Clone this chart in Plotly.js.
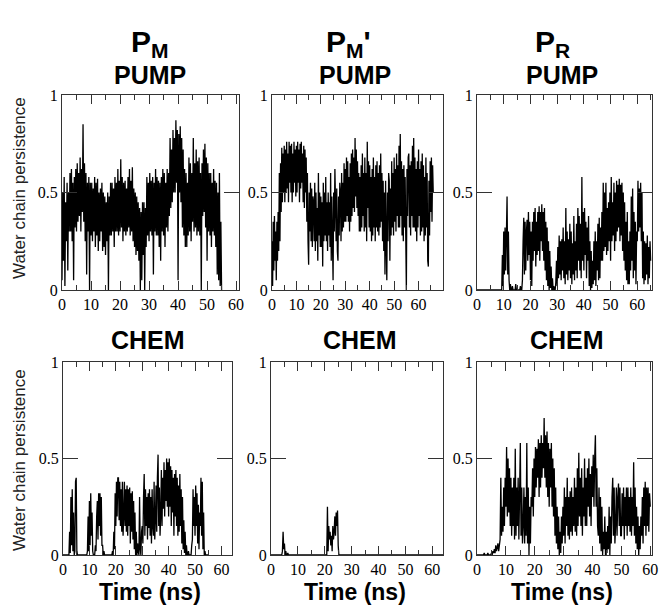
<!DOCTYPE html>
<html>
<head>
<meta charset="utf-8">
<script src="https://cdn.plot.ly/plotly-3.0.1.min.js"></script>
<style>html,body{margin:0;padding:0;background:#fff;}#chart{width:659px;height:610px;}</style>
</head>
<body>
<div id="chart"></div>
<script>
// sampling interval of every series (ns)
const timeStep = 0.25;

const columnTitles = ['<b>P<sub>M</sub></b>', "<b>P<sub>M</sub>'</b>", '<b>P<sub>R</sub></b>'];
const rowTitles = ['PUMP', 'CHEM'];
const xTitle = 'Time (ns)';
const yTitle = 'Water chain persistence';
const yTickVals = [0, 0.5, 1];
const yTickText = ['0', '0.5', '1'];
const xTickVals = [0, 10, 20, 30, 40, 50, 60];

// P_M, PUMP (0-55 ns)
const pmPump = [.05,.5,.15,.58, .02,.45,.25,.55, .1,.5,.3,.6, .3,.62,.25,.55, .05,.58,.32,.62, .3,.65,.35,.6, .38,.68,.3,.62, .4,.85,.35,.65, .25,.6,.08,.55, .3,.58,0,.55, .28,.55,.25,.52, .3,.58,.22,.55, .28,.57,.2,.5, .25,.52,.3,.55, .2,.5,.22,.48, .18,.45,.25,.5, 0,.48,.28,.55, .28,.55,.3,.52, .22,.58,.3,.55, .3,.62,.28,.56, .3,.67,.32,.58, .25,.55,.3,.56, .28,.52,.3,.58, .32,.62,.28,.56, .3,.63,.25,.52, .22,.5,.18,.48, .2,.45,.15,.42, 0,.4,.05,.45, .18,.45,0,.42, .22,.58,.28,.55, .25,.6,.3,.56, .28,.58,.08,.55, .3,.62,.28,.58, .28,.56,.22,.55, .15,.58,.3,.62, .28,.6,.22,.55, .32,.62,.3,.6, .38,.78,.42,.72, .45,.82,.5,.78, .5,.87,.55,.82, .05,.8,.5,.84, .45,.78,.32,.72, .28,.62,.22,.6, .22,.55,.28,.68, .3,.65,.25,.6, .35,.78,.3,.65, .32,.72,.28,.66, .3,.68,.28,.6, 0,.65,.38,.72, .4,.75,.32,.68, .15,.65,.3,.6, .28,.6,.22,.55, .3,.62,.28,.56, .22,.55,.08,.5, .05,.6,.02,.35, 0];

// P_M', PUMP (0-66 ns)
const pmpPump = [.25,.02,.35,.1, .38,.15,.3,.05, .35,.15,.4,.2, .6,.25,.65,.4, .73,.45,.7,.5, .74,.45,.72,.5, .76,.52,.7,.45, .76,.55,.74,.5, .75,.45,.7,.5, .76,.55,.72,.48, .74,.5,.76,.55, .72,.45,.75,.52, .76,.55,.7,.45, .74,.42,.72,.5, .68,.35,.6,.25, .13,.5,.3,.55, .25,.52,.22,.48, .45,.25,.55,.2, .5,.25,.42,.15, .6,.28,.5,.22, .48,.22,.45,.12, .55,.25,.5,.28, .58,.25,.45,.2, .5,.28,.45,.22, .6,.15,.48,.25, .05,.5,.3,.62, .45,.25,.52,.2, .15,.48,.28,.55, .5,.25,.6,.3, .55,.32,.65,.35, .62,.35,.68,.38, .66,.35,.58,.3, .65,.35,.7,.38, .72,.42,.68,.4, .78,.48,.72,.42, .66,.38,.6,.3, .58,.3,.64,.32, .7,.38,.6,.3, .68,.32,.6,.25, .76,.42,.66,.32, .64,.3,.58,.25, .62,.28,.68,.32, .58,.25,.64,.32, .66,.3,.6,.28, .64,.32,.7,.35, .6,.25,.56,.2, .5,.08,.56,.25, .05,.5,.25,.6, .56,.15,.52,.28, .66,.32,.6,.28, .68,.35,.62,.3, .7,.38,.64,.32, .74,.32,.8,.38, .66,.28,.62,.25, .64,.32,.58,.28, 0,.62,.38,.68, .7,.32,.64,.28, .66,.38,.74,.32, .78,.32,.68,.3, .62,.25,.66,.32, .72,.38,.62,.28, .66,.3,.7,.32, .64,.25,.58,.28, .68,.32,.6,.15, .12,.56,.28,.66, .4,.68,.35,.64, .5];

// P_R, PUMP (0-65 ns)
const prPump = [0,0,0,0, 0,0,0,0, 0,0,0,0, 0,0,0,0, 0,0,0,0, 0,0,0,0, 0,0,0,0, 0,0,0,0, 0,0,0,0, 0,0,.18,.02, .3,.08,.32,.1, .28,.48,.08,.3, .05,0,.03,0, 0,.02,0,0, 0,0,.03,0, 0,0,0,0, 0,.02,0,0, .05,.25,.37,.08, .35,.1,.3,.36, .15,.4,.18,.35, .05,.3,.02,.35, .15,.4,.2,.42, .12,.35,.18,.4, .2,.43,.15,.4, .25,.44,.2,.4, .15,.42,.1,.35, .05,.32,.02,.25, 0,.2,.01,.12, 0,.06,0,.02, 0,0,.04,.15, .02,.22,.06,.28, .08,.25,.05,.26, .1,.32,.06,.25, .03,.42,.08,.3, .05,.26,.1,.34, .06,.3,.03,.24, .08,.38,.05,.25, .1,.34,.06,.42, .15,.38,.1,.34, .06,.58,.15,.4, .1,.42,.18,.35, .06,.32,.15,.38, .02,.25,0,.2, .01,.15,.03,.25, .05,.3,.02,.25, .1,.34,.05,.37, .06,.32,.15,.4, .15,.55,.2,.5, .22,.55,.18,.42, .2,.45,.25,.5, .15,.58,.25,.45, .28,.55,.2,.5, .25,.56,.3,.54, .32,.57,.25,.54, .28,.55,.2,.5, .15,.45,.1,.35, .05,.4,.03,.25, .03,.3,.1,.48, .15,.52,.06,.4, .1,.35,.03,.3, .25,.56,.3,.52, .32,.55,.25,.5, .06,.3,.03,.25, .05,.24,.08,.28, .03,.22,.06,.25, .15];

// P_M, CHEM (0-55 ns)
const pmChem = [0,0,0,0, 0,0,0,0, 0,0,.12,.01, .3,.05,.34,.02, .22,0,.02,.38, .4,.02,0,0, 0,0,0,0, 0,0,0,0, 0,0,0,0, 0,.02,.2,.02, .28,.05,.32,.1, .22,.02,0,0, 0,.05,.02,.2, .28,.08,.32,.15, .32,.1,.3,.05, .05,0,.02,0, 0,0,0,0, 0,0,0,0, 0,0,0,.02, 0,.12,.03,.32, .15,.38,.2,.4, .4,.18,.38,.15, .34,.12,.38,.1, .2,.38,.15,.34, .12,.36,.1,.34, .15,.35,.06,.32, .12,.33,.08,.28, .03,.22,0,.12, 0,.06,.02,0, .3,.03,0,.12, .15,.06,.3,.42, .1,.34,.15,.3, .08,.32,.14,.34, .1,.3,.06,.34, .15,.1,.38,.08, .18,.36,.12,.4, .52,.15,.35,.1, .2,.44,.15,.4, .24,.48,.2,.44, .28,.5,.25,.48, .2,.5,.25,.46, .15,.44,.22,.4, .1,.42,.2,.44, .15,.4,.1,.36, .12,.42,.15,.34, .06,.3,.03,.18, .01,.12,0,.05, 0,0,.02,0, 0,0,0,.05, .08,.34,.15,.3, .1,.36,.15,.32, .06,.26,.03,.22, .15,.4,.1,.38, .03,.22,0,.02, 0,0,0,0, 0];

// P_M', CHEM (0-65 ns)
const pmpChem = [0,0,0,0, 0,0,0,0, 0,0,0,0, 0,0,0,0, 0,.02,.12,.03, .06,0,.02,0, 0,.01,0,0, 0,0,0,0, 0,0,0,0, 0,0,0,0, 0,0,0,0, 0,0,0,0, 0,0,0,0, 0,0,0,0, 0,0,0,0, 0,0,0,0, 0,0,0,0, 0,0,0,0, 0,0,0,0, 0,0,0,0, 0,0,0,0, .25,.02,.15,.08, .12,.05,.1,.02, .15,.08,.12,.2, .1,.22,.15,.23, .05,0,0,0, 0,0,0,0, 0,0,0,0, 0,0,0,0, 0,0,0,0, 0,0,0,0, 0,0,0,0, 0,0,0,0, 0,0,0,0, 0,0,0,0, 0,0,0,0, 0,0,0,0, 0,0,0,0, 0,0,0,0, 0,0,0,0, 0,0,0,0, 0,0,0,0, 0,0,0,0, 0,0,0,0, 0,0,0,0, 0,0,0,0, 0,0,0,0, 0,0,0,0, 0,0,0,0, 0,0,0,0, 0,0,0,0, 0,0,0,0, 0,0,0,0, 0,0,0,0, 0,0,0,0, 0,0,0,0, 0,0,0,0, 0,0,0,0, 0,0,0,0, 0,0,0,0, 0,0,0,0, 0,0,0,0, 0,0,0,0, 0,0,0,0, 0,0,0,0, 0];

// P_R, CHEM (0-60 ns)
const prChem = [0,0,0,0, 0,0,0,0, 0,0,.01,0, 0,0,0,.01, 0,0,0,0, .01,0,.02,.01, .03,.01,.05,.02, .04,.06,.02,.05, .08,.4,.1,.25, .12,.35,.15,.4, .25,.56,.2,.5, .22,.45,.15,.4, .1,.35,.15,.4, .08,.55,.1,.35, .15,.4,.08,.32, .58,.1,.35,.06, .15,.35,.06,.3, .1,.58,.06,.35, 0,.25,.06,.3, .25,.45,.2,.5, .3,.56,.35,.55, .4,.6,.3,.58, .35,.62,.4,.58, .45,.71,.4,.62, .35,.64,.3,.58, .25,.55,.35,.58, .25,.5,.2,.45, .1,.35,.06,.25, .03,.2,0,.12, .01,.2,.06,.25, .1,.35,.06,.3, .15,.4,.1,.3, .08,.33,.12,.35, .1,.3,.15,.4, .12,.35,.1,.45, .15,.53,.2,.4, .15,.45,.1,.35, .2,.5,.15,.4, .15,.45,.25,.5, .2,.42,.15,.46, .3,.52,.25,.5, .62,.25,.45,.15, .1,.35,.06,.3, .02,.25,0,.12, .03,.2,0,.12, .01,.15,.03,.25, 0,.2,.06,.3, .4,.1,.35,.06, .15,.35,.1,.3, .37,.15,.35,.1, .1,.32,.15,.35, .08,.3,.15,.35, .1,.35,.15,.3, .12,.35,.1,.3, .15,.48,.1,.35, .06,.25,.03,.2, 0,.15,.03,.2, .1,.3,.06,.35, .15,.38,.1,.35, .15,.35,.12,.32, .25];

const series = [pmPump, pmpPump, prPump, pmChem, pmpChem, prChem];
const xRanges = [[0, 61], [0, 70], [0, 65.5], [0, 64], [0, 64], [0, 60.6]];

const W = 659, H = 610;
// panel pixel boxes [left, right, top, bottom]
const boxes = [
  [62, 239, 95, 290], [272, 443, 95, 290], [477, 652, 95, 290],
  [63, 232, 362, 555], [271, 443, 362, 555], [477, 652, 362, 555]
];

const data = series.map((vals, i) => ({
  type: 'scatter', mode: 'lines',
  x: vals.map((_, k) => k * timeStep), y: vals,
  xaxis: 'x' + (i ? i + 1 : ''), yaxis: 'y' + (i ? i + 1 : ''),
  line: {color: '#000', width: 1.3, simplify: false}, hoverinfo: 'skip', showlegend: false
}));

const serif = 'Times New Roman, Liberation Serif, serif';
const layout = {
  width: W, height: H, margin: {l: 0, r: 0, t: 0, b: 0},
  paper_bgcolor: '#fff', plot_bgcolor: '#fff', showlegend: false,
  font: {family: serif, size: 16, color: '#000'},
  annotations: []
};

const tickFont = {family: serif, size: 16, color: '#000'};
boxes.forEach((b, i) => {
  const s = i ? String(i + 1) : '';
  layout['xaxis' + s] = {
    domain: [b[0] / W, b[1] / W], anchor: 'y' + s, range: xRanges[i],
    tickmode: 'array', tickvals: xTickVals, ticktext: xTickVals.map(String),
    ticks: 'inside', ticklen: 9, tickwidth: 1, tickcolor: '#333',
    minor: {tickmode: 'linear', tick0: 0, dtick: 5, ticks: 'inside', ticklen: 5, tickwidth: 1, tickcolor: '#333'},
    showline: true, linecolor: '#333', linewidth: 1, mirror: 'ticks',
    showgrid: false, zeroline: false, tickfont: tickFont
  };
  layout['yaxis' + s] = {
    domain: [1 - b[3] / H, 1 - b[2] / H], anchor: 'x' + s, range: [0, 1],
    tickmode: 'array', tickvals: yTickVals, ticktext: yTickText,
    ticks: 'inside', ticklen: 15, tickwidth: 1, tickcolor: '#333',
    showline: true, linecolor: '#333', linewidth: 1, mirror: 'ticks',
    showgrid: false, zeroline: false, tickfont: tickFont
  };
});

const sans = 'Arial, Liberation Sans, sans-serif';
const ann = (text, xpx, ypx, size, extra) => Object.assign({
  text: text, xref: 'paper', yref: 'paper', x: xpx / W, y: 1 - ypx / H,
  xanchor: 'center', yanchor: 'middle', showarrow: false,
  font: {family: sans, size: size, color: '#000'}
}, extra || {});

const colHeadX = [150, 348, 552];
columnTitles.forEach((t, i) => layout.annotations.push(ann(t, colHeadX[i], 44, 30)));
const rowTitleX = [[150, 355, 562], [148, 360, 567]];
const rowTitleY = [75, 340];
rowTitles.forEach((t, r) => rowTitleX[r].forEach(x => layout.annotations.push(ann('<b>' + t + '</b>', x, rowTitleY[r], 25))));
[150, 355, 562].forEach(x => layout.annotations.push(ann('<b>' + xTitle + '</b>', x, 592, 23)));
[188, 460].forEach(y => layout.annotations.push(ann(yTitle, 20, y, 17, {textangle: -90, font: {family: sans, size: 17, color: '#222'}})));

Plotly.newPlot('chart', data, layout, {staticPlot: true, displayModeBar: false});
</script>
</body>
</html>
